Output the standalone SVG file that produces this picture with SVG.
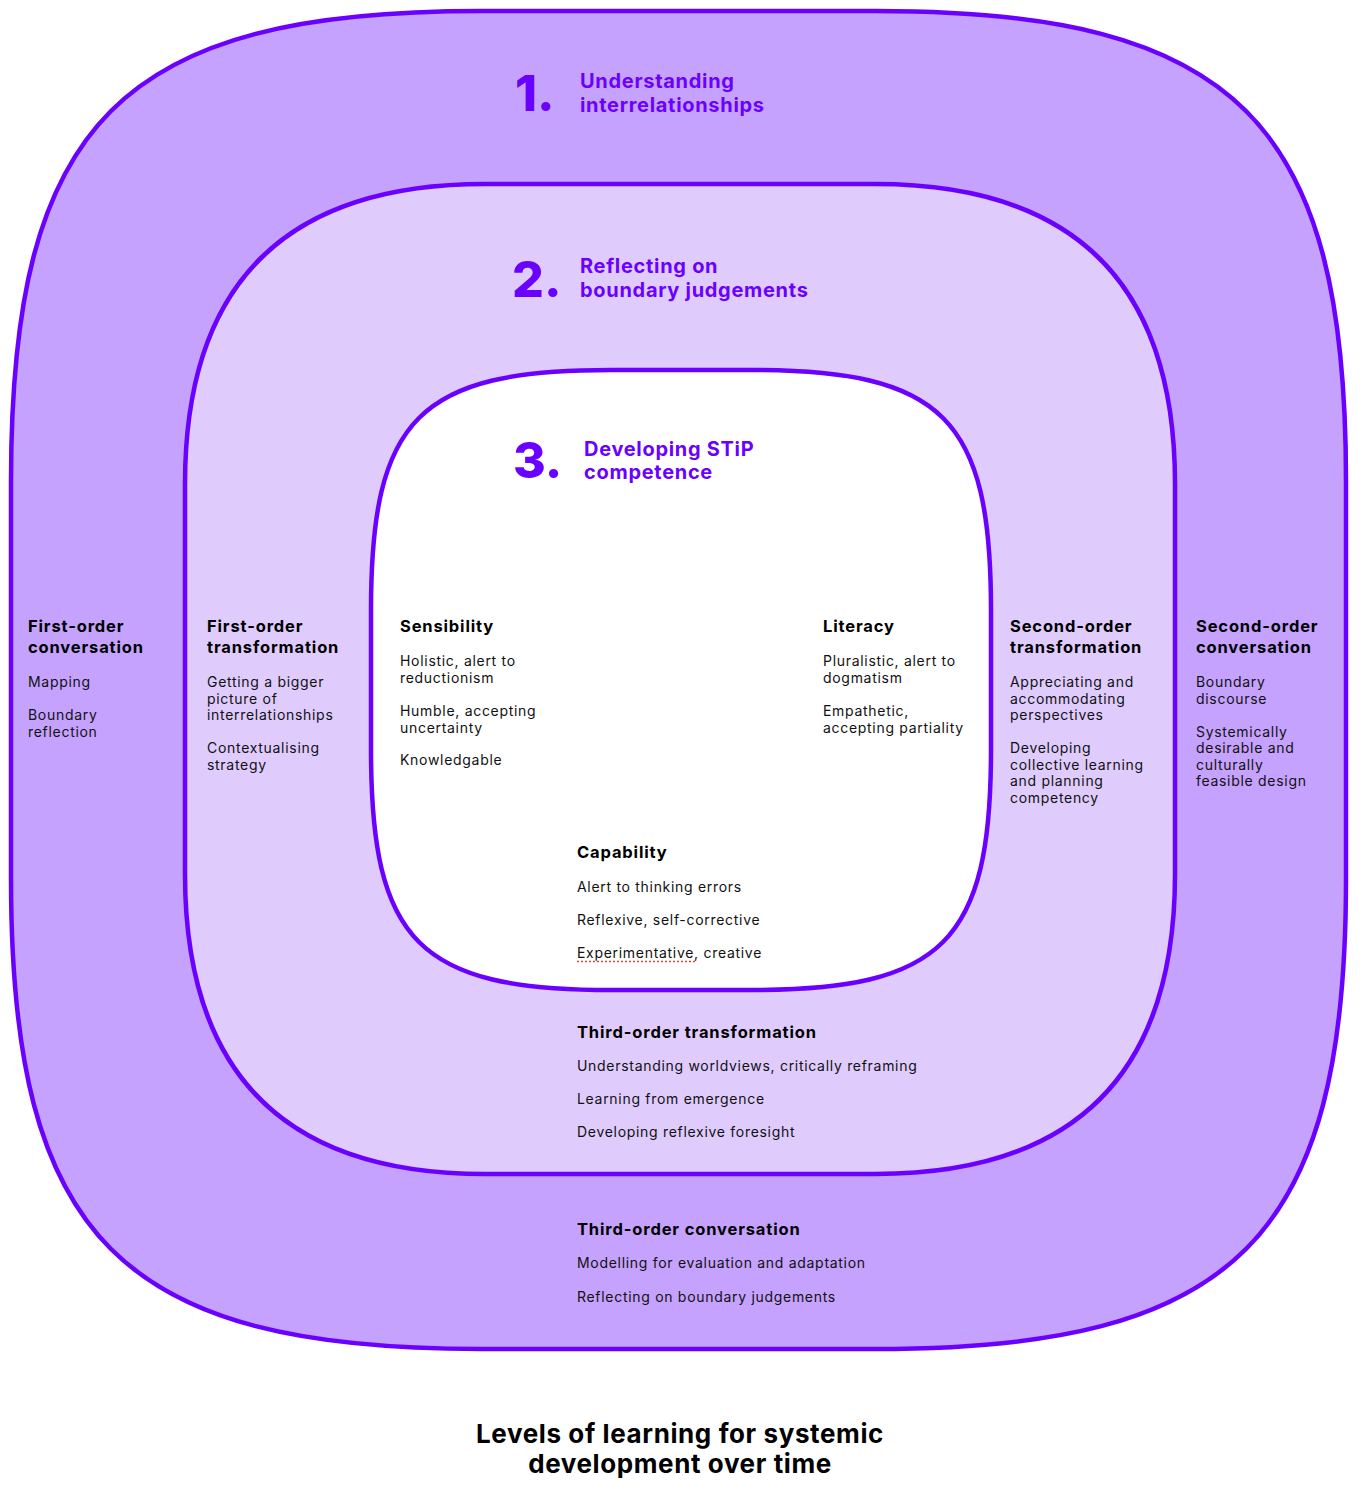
<svg xmlns="http://www.w3.org/2000/svg" width="1362" height="1504" viewBox="0 0 1362 1504">
<style>
.ring{stroke:#6a00ff;stroke-width:4.5;}
.num{font-family:Inter,"Liberation Sans",sans-serif;font-weight:800;font-size:50px;fill:#6a00ff;}
.lvl{font-family:Inter,"Liberation Sans",sans-serif;font-weight:700;font-size:20px;letter-spacing:0.7px;fill:#6a00ff;}
.h{font-family:Inter,"Liberation Sans",sans-serif;font-weight:700;font-size:16.5px;letter-spacing:0.85px;fill:#000;}
.b{font-family:Inter,"Liberation Sans",sans-serif;font-weight:400;font-size:14px;letter-spacing:0.7px;fill:#111;}
.t{font-family:Inter,"Liberation Sans",sans-serif;font-weight:700;font-size:26px;letter-spacing:0.6px;fill:#000;}
</style>
<rect width="1362" height="1504" fill="#fff"/>
<g id="level1">
<path class="ring" fill="#c5a2fd" d="M11,481 C11,121 121,11 481,11 L876,11 C1236,11 1346,121 1346,481 L1346,879 C1346,1239 1236,1349 876,1349 L481,1349 C121,1349 11,1239 11,879 Z"/>
<text class="num" x="515" y="111">1.</text>
<text class="lvl" x="580" y="88">Understanding</text>
<text class="lvl" x="580" y="112">interrelationships</text>
</g>
<g id="level2">
<path class="ring" fill="#dfccfd" d="M185,484 C185,284 285,184 485,184 L875,184 C1075,184 1175,284 1175,484 L1175,874 C1175,1074 1075,1174 875,1174 L485,1174 C285,1174 185,1074 185,874 Z"/>
<text class="num" x="512" y="297">2.</text>
<text class="lvl" x="580" y="273">Reflecting on</text>
<text class="lvl" x="580" y="297">boundary judgements</text>
</g>
<g id="level3">
<path class="ring" fill="#ffffff" d="M371,610 C371,418 419,370 611,370 L751,370 C943,370 991,418 991,610 L991,750 C991,942 943,990 751,990 L611,990 C419,990 371,942 371,750 Z"/>
<text class="num" x="513" y="478">3.</text>
<text class="lvl" x="584" y="456">Developing STiP</text>
<text class="lvl" x="584" y="479">competence</text>
</g>
<g id="first-order-conversation">
<text class="h" x="28" y="632">First-order</text>
<text class="h" x="28" y="653">conversation</text>
<text class="b" x="28" y="687">Mapping</text>
<text class="b" x="28" y="720">Boundary</text>
<text class="b" x="28" y="737">reflection</text>
</g>
<g id="first-order-transformation">
<text class="h" x="207" y="632">First-order</text>
<text class="h" x="207" y="653">transformation</text>
<text class="b" x="207" y="687">Getting a bigger</text>
<text class="b" x="207" y="703.5">picture of</text>
<text class="b" x="207" y="720">interrelationships</text>
<text class="b" x="207" y="753">Contextualising</text>
<text class="b" x="207" y="770">strategy</text>
</g>
<g id="sensibility">
<text class="h" x="400" y="632">Sensibility</text>
<text class="b" x="400" y="666">Holistic, alert to</text>
<text class="b" x="400" y="683">reductionism</text>
<text class="b" x="400" y="716">Humble, accepting</text>
<text class="b" x="400" y="732.5">uncertainty</text>
<text class="b" x="400" y="765">Knowledgable</text>
</g>
<g id="literacy">
<text class="h" x="823" y="632">Literacy</text>
<text class="b" x="823" y="666">Pluralistic, alert to</text>
<text class="b" x="823" y="683">dogmatism</text>
<text class="b" x="823" y="716">Empathetic,</text>
<text class="b" x="823" y="732.5">accepting partiality</text>
</g>
<g id="second-order-transformation">
<text class="h" x="1010" y="632">Second-order</text>
<text class="h" x="1010" y="653">transformation</text>
<text class="b" x="1010" y="687">Appreciating and</text>
<text class="b" x="1010" y="703.5">accommodating</text>
<text class="b" x="1010" y="720">perspectives</text>
<text class="b" x="1010" y="753">Developing</text>
<text class="b" x="1010" y="769.5">collective learning</text>
<text class="b" x="1010" y="786">and planning</text>
<text class="b" x="1010" y="802.5">competency</text>
</g>
<g id="second-order-conversation">
<text class="h" x="1196" y="632">Second-order</text>
<text class="h" x="1196" y="653">conversation</text>
<text class="b" x="1196" y="687">Boundary</text>
<text class="b" x="1196" y="703.5">discourse</text>
<text class="b" x="1196" y="737">Systemically</text>
<text class="b" x="1196" y="753">desirable and</text>
<text class="b" x="1196" y="770">culturally</text>
<text class="b" x="1196" y="786">feasible design</text>
</g>
<g id="capability">
<text class="h" x="577" y="858">Capability</text>
<text class="b" x="577" y="892">Alert to thinking errors</text>
<text class="b" x="577" y="925">Reflexive, self-corrective</text>
<text class="b" x="577" y="958">Experimentative, creative</text>
<line x1="577" y1="961.5" x2="695" y2="961.5" stroke="#e0403a" stroke-width="1.3" stroke-dasharray="2 2"/>
</g>
<g id="third-order-transformation">
<text class="h" x="577" y="1038">Third-order transformation</text>
<text class="b" x="577" y="1071">Understanding worldviews, critically reframing</text>
<text class="b" x="577" y="1104">Learning from emergence</text>
<text class="b" x="577" y="1137">Developing reflexive foresight</text>
</g>
<g id="third-order-conversation">
<text class="h" x="577" y="1235">Third-order conversation</text>
<text class="b" x="577" y="1268">Modelling for evaluation and adaptation</text>
<text class="b" x="577" y="1302">Reflecting on boundary judgements</text>
</g>
<g id="title">
<text class="t" x="680" y="1443" text-anchor="middle">Levels of learning for systemic</text>
<text class="t" x="680" y="1473" text-anchor="middle">development over time</text>
</g>
<g id="connectors"></g>
</svg>
